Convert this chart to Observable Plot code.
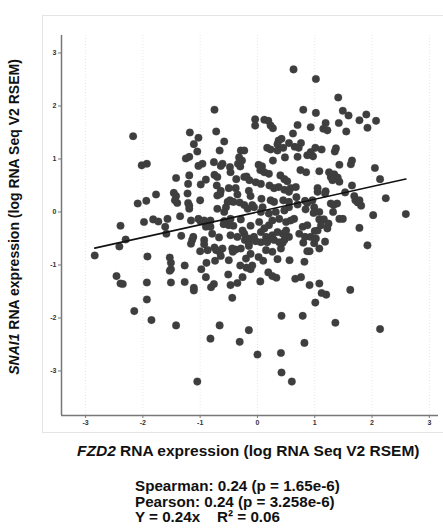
<!DOCTYPE html>
<html><head><meta charset="utf-8">
<script src="https://cdn.jsdelivr.net/npm/d3@7"></script>
<script src="https://cdn.jsdelivr.net/npm/@observablehq/plot@0.6"></script>
<style>
body{margin:0;background:#fff;font-family:"Liberation Sans",Arial,sans-serif;}
#wrap{position:relative;width:443px;height:529px;overflow:hidden;}
#frame{position:absolute;left:42px;top:15px;width:410px;height:416px;border:1px solid #e4e4e4;}
#chart{position:absolute;left:0;top:0;}
#xlab{position:absolute;top:442px;left:77px;white-space:nowrap;font-weight:bold;font-size:15.5px;line-height:18px;color:#111;}
#stats{position:absolute;top:478px;left:135px;white-space:nowrap;font-weight:bold;font-size:15.2px;line-height:15.6px;color:#111;}
</style>
</head><body>
<div id="wrap"><div id="frame"></div><div id="chart"></div>
<div id="xlab"><i>FZD2</i> RNA expression (log RNA Seq V2 RSEM)</div>
<div id="stats">Spearman: 0.24 (p = 1.65e-6)<br>Pearson: 0.24 (p = 3.258e-6)<br>Y = 0.24x&nbsp;&nbsp;&nbsp; R² = 0.06</div>
</div>
<script>
const xTicks = [-3,-2,-1,0,1,2,3];
const yTicks = [-3,-2,-1,0,1,2,3];
const fitSlope = [0.24];
const fitIntercept = [0.0];
const fzd2 = [
0.63,1.02,1.41,-0.75,0.80,1.49,1.02,1.59,1.90,1.78,2.07,1.92,-2.17,-0.04,-0.04,0.12,0.19,0.23,0.27,0.70,
0.93,1.19,1.15,1.22,1.42,1.55,0.62,-1.18,-1.03,-0.72,-0.58,-1.11,-1.05,0.37,0.42,0.35,0.55,0.65,0.76,0.72,
0.17,0.23,0.35,0.45,-0.66,-0.29,-0.23,1.01,1.12,0.93,1.35,1.37,0.97,0.87,0.70,0.48,0.27,-1.25,-1.19,-0.32,
-0.27,-0.34,-0.30,-0.96,-1.03,-0.76,-0.61,-0.64,-0.48,-2.02,-1.93,0.02,0.08,0.05,0.12,0.20,0.75,0.85,1.08,1.25,
1.28,1.34,1.40,1.43,1.65,1.63,1.43,2.05,2.14,1.65,-1.42,-1.19,-0.75,-0.70,-0.90,-0.99,-1.21,-0.47,-0.23,-0.37,
-0.38,-0.19,-0.14,0.40,0.47,0.52,-0.03,0.06,0.21,0.29,0.37,0.58,0.67,0.47,-0.71,-0.64,-0.50,1.05,1.19,1.05,
-1.46,-1.42,-1.22,-1.77,-0.70,-0.65,-0.48,-0.42,-0.35,-0.31,-1.00,-1.44,-1.40,-1.21,-1.19,-1.94,-2.09,-0.15,-0.12,0.07,
0.23,0.29,0.45,0.55,0.68,0.70,0.83,0.87,0.96,1.18,1.28,1.33,1.39,1.53,1.69,1.71,1.75,1.78,1.81,2.24,
2.59,2.02,1.78,1.92,1.32,1.43,1.49,1.08,1.16,1.24,0.98,1.18,0.99,0.91,0.87,0.82,1.00,1.05,0.80,0.83,
0.56,0.35,0.44,-2.84,-2.46,-2.39,-2.35,-2.41,-2.39,-2.30,-1.92,-1.93,-1.93,-2.15,-1.85,-1.98,-1.82,-1.73,-1.61,-1.59,
-1.57,-1.53,-1.51,-1.51,-1.53,-1.51,-1.42,-1.35,-1.33,-1.27,-1.27,-1.16,-1.12,-1.16,-1.11,-1.11,-1.03,-0.99,-0.93,-1.00,
-0.98,-0.93,-0.93,-0.90,-0.87,-0.89,-0.82,-0.79,-0.75,-0.72,-0.74,-0.81,-0.76,-0.82,-0.66,-0.64,-0.66,-0.58,-0.59,-0.51,
-0.47,-0.44,-0.42,-0.43,-0.38,-0.35,-0.31,-0.30,-0.26,-0.23,-0.22,-0.19,-0.12,-0.15,-0.15,0.00,0.05,0.02,0.10,0.19,
0.26,0.33,0.42,0.41,0.42,0.60,-1.05,0.66,0.76,0.79,0.82,0.91,1.01,1.08,1.12,1.20,1.36,1.62,2.14,
-0.29,-0.17,-0.06,0.06,0.20,0.32,0.47,0.55,0.64,0.84,0.99,1.08,-0.26,-0.12,0.03,0.12,0.20,0.26,0.38,0.50,
0.58,0.79,0.87,1.11,-0.35,-0.15,-0.06,0.06,0.15,0.20,0.26,0.35,0.44,0.50,0.55,0.73,0.93,1.02,-0.29,-0.15,
-0.03,0.06,0.17,0.29,0.38,0.47,-0.20,-0.12,0.15,0.26,0.41,1.08,-0.09,
-1.19,-0.90,-0.82,-0.70,-0.47,-0.50,-0.58,-1.14,-0.67,-0.47,-0.61,-0.44,-0.50,
0.55,-0.23,-0.09,0.09,-0.52,-0.55,1.31,1.22
];
const snai1 = [
2.69,2.51,2.16,1.93,1.93,1.91,1.87,1.82,1.84,1.73,1.72,1.59,1.43,1.75,1.63,1.74,1.72,1.63,1.58,1.64,
1.60,1.68,1.57,1.54,1.68,1.52,1.48,1.50,1.40,1.52,1.33,1.28,1.14,1.35,1.38,1.28,1.30,1.23,1.30,1.21,
1.21,1.18,1.16,1.21,1.16,1.16,1.16,1.21,1.18,1.13,1.14,1.20,1.05,1.07,1.04,1.03,0.97,1.01,1.04,1.03,
0.97,0.91,0.86,0.91,0.87,0.94,0.91,0.87,0.85,0.88,0.91,0.89,0.86,0.79,0.75,0.72,0.79,0.75,0.77,0.75,
0.66,0.71,0.65,0.57,0.97,0.90,0.89,0.83,0.62,0.50,0.64,0.69,0.70,0.66,0.61,0.52,0.53,0.75,0.66,0.62,
0.45,0.67,0.60,0.69,0.62,0.58,0.56,0.53,0.50,0.45,0.47,0.45,0.47,0.42,0.50,0.40,0.45,0.45,0.39,0.38,
0.36,0.30,0.35,0.33,0.31,0.34,0.22,0.19,0.33,0.18,0.22,0.22,0.17,0.17,0.12,0.21,0.16,0.40,0.30,0.25,
0.22,0.19,0.22,0.19,0.28,0.14,0.21,0.17,0.22,0.35,0.16,0.13,0.16,0.37,0.30,0.22,0.18,0.22,0.12,0.26,
-0.04,-0.06,-0.30,-0.63,0.00,-0.13,-0.13,-0.14,-0.14,-0.22,-0.02,-0.56,-0.59,-0.74,-0.74,-0.94,-0.36,-0.35,-0.58,-0.47,
-0.91,-0.89,-0.58,-0.82,-1.21,-1.35,-1.36,-0.65,-0.26,-0.52,-0.84,-1.33,-1.65,-1.87,-2.04,-0.19,-0.14,-0.18,-0.28,-0.41,
-0.13,-0.86,-0.96,-1.08,-1.11,-1.33,-2.14,-0.08,-0.45,-1.01,-1.32,-0.16,-0.47,-0.60,-1.43,-1.48,-0.13,-0.18,-0.16,-0.74,
-1.08,-0.53,-0.61,-1.23,-0.72,-0.96,-0.28,-0.41,-0.67,-0.72,-0.92,-1.42,-1.36,-2.39,-0.75,-0.83,-2.14,-0.17,-0.23,-1.18,
-1.38,-1.62,-0.26,-0.75,-0.71,-1.34,-2.45,-1.01,-1.23,-0.41,-0.53,-1.05,-1.08,-2.23,-0.64,-2.69,-1.31,-0.85,-0.92,-1.14,
-1.21,-1.24,-1.96,-2.66,-3.03,-3.20,-3.20,-1.26,-1.23,-1.96,-2.47,-1.38,-1.71,-1.35,-1.53,-1.56,-2.09,-1.47,-2.21,
-0.14,0.06,0.09,0.00,-0.03,0.00,0.03,0.09,-0.13,0.05,0.09,0.00,-0.35,-0.26,-0.19,-0.31,-0.25,-0.16,-0.13,-0.19,
-0.16,-0.28,-0.25,-0.25,-0.47,-0.50,-0.47,-0.38,-0.47,-0.50,-0.44,-0.38,-0.41,-0.35,-0.47,-0.41,-0.47,-0.50,-0.69,-0.60,
-0.55,-0.57,-0.57,-0.53,-0.57,-0.53,-0.88,-0.79,-0.72,-0.75,-0.69,-0.69,-1.01,
0.06,-0.28,-0.16,0.06,-0.13,-0.25,0.00,-0.53,-0.48,-0.44,-0.69,-0.69,-0.91,
0.38,0.13,0.13,0.09,0.19,0.09,0.60,-0.31
];

const points = fzd2.map((x, i) => ({x, y: snai1[i]}));
const [xmin, xmax] = d3.extent(fzd2);
const fit = [xmin, xmax].map(x => ({x, y: fitSlope[0] * x + fitIntercept[0]}));
const xDom = [-3.42, 3.16], yDom = [-3.84, 3.33];

const chart = Plot.plot({
  width: 443, height: 435,
  marginLeft: 61, marginRight: 5, marginTop: 35, marginBottom: 20,
  style: {fontFamily: "Liberation Sans, Arial, sans-serif", fontSize: "7px", fontWeight: "bold", color: "#333", background: "transparent", overflow: "visible"},
  x: {domain: xDom},
  y: {domain: yDom},
  marks: [
    Plot.gridX(xTicks, {stroke: "#e6e6e6", strokeDasharray: "1,2", strokeOpacity: 1}),
    Plot.dot(points, {x: "x", y: "y", r: 3.8, fill: "#3e3e3e", stroke: "#3e3e3e", strokeOpacity: 0.35, strokeWidth: 0.8}),
    Plot.line(fit, {x: "x", y: "y", stroke: "#111", strokeWidth: 1.6}),
    Plot.ruleX([xDom[0]], {stroke: "#777", strokeWidth: 1.5}),
    Plot.ruleY([yDom[0]], {stroke: "#777", strokeWidth: 1.5}),
    Plot.axisX({ticks: xTicks, tickFormat: d => String(d), label: null, tickSize: 3, tickPadding: 2, stroke: "#777"}),
    Plot.axisY({ticks: yTicks, tickFormat: d => String(d), label: null, tickSize: 3, tickPadding: 2, stroke: "#777"})
  ]
});
document.getElementById("chart").appendChild(chart);
const svg = d3.select(chart);
const t = svg.append("text")
  .attr("transform", "translate(19,217) rotate(-90)")
  .attr("text-anchor", "middle")
  .attr("font-size", 14).attr("font-weight", "bold").attr("fill", "#111")
  .attr("font-family", "Liberation Sans, Arial, sans-serif");
t.append("tspan").attr("font-style", "italic").text("SNAI1");
t.append("tspan").text(" RNA expression (log RNA Seq V2 RSEM)");
</script>
</body></html>
